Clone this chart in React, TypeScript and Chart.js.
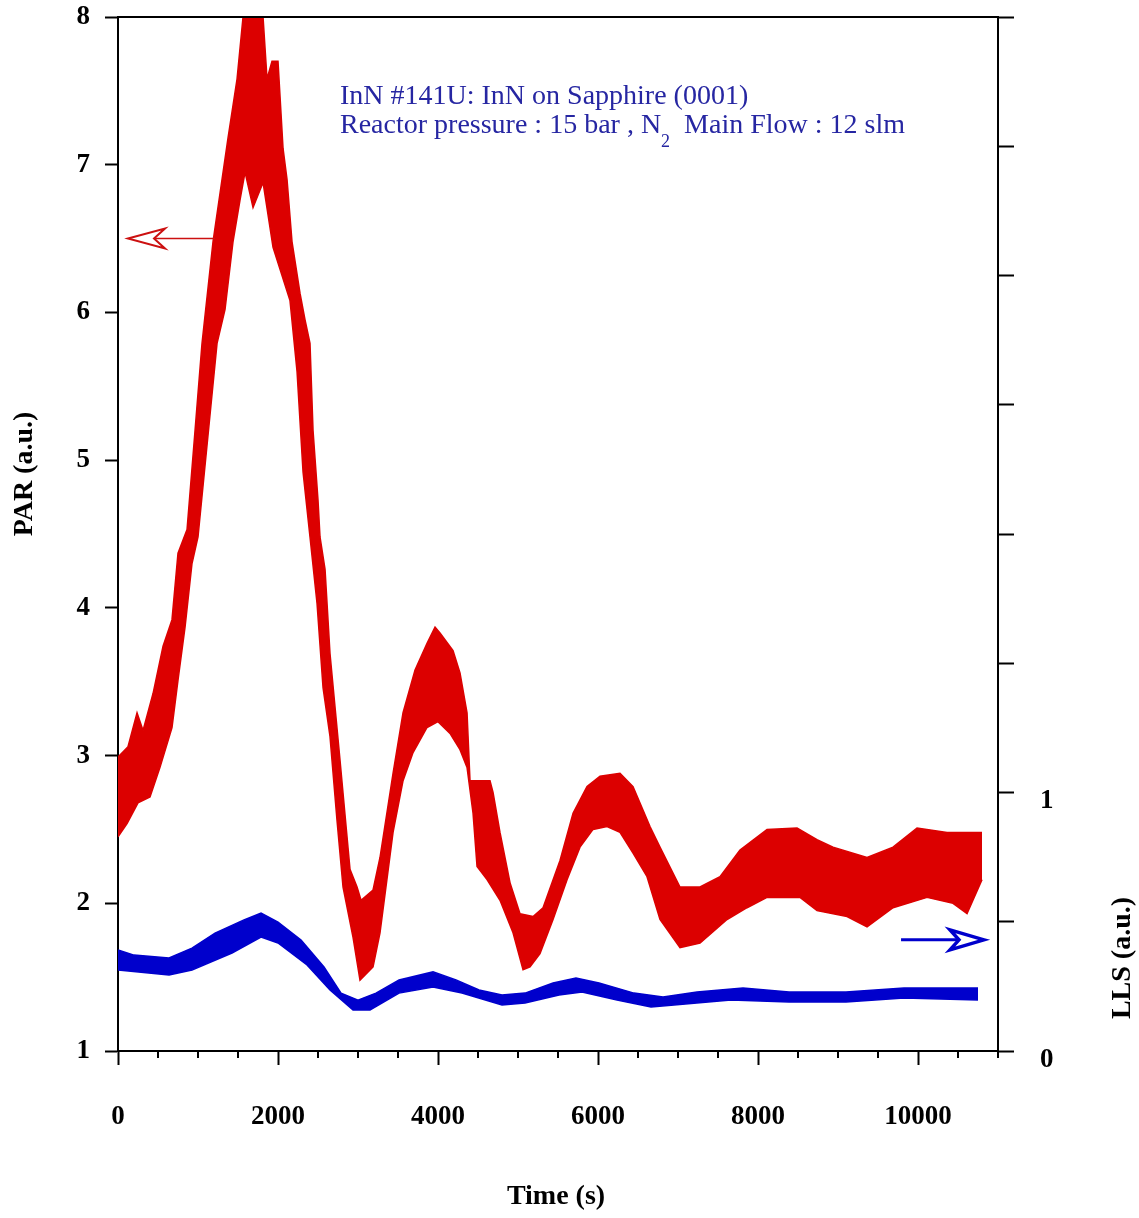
import React, { useEffect, useRef } from 'react';
import { Chart, registerables } from 'chart.js';

Chart.register(...registerables);

// ---- PAR (left axis) : upper and lower envelope of the noisy red trace ----
const PAR_TOP_T = [0, 125, 238, 313, 438, 563, 675, 750, 863, 963, 1050, 1188, 1375, 1488, 1563, 1813, 1863, 1925, 2000, 2063, 2113, 2175, 2275, 2338, 2400, 2438, 2500, 2525, 2588, 2650, 2775, 2900, 2988, 3038, 3188, 3275, 3438, 3563, 3713, 3863, 3963, 4025, 4188, 4275, 4363, 4400, 4650, 4688, 4775, 4900, 5025, 5188, 5313, 5525, 5688, 5863, 6025, 6275, 6438, 6650, 6775, 7025, 7275, 7525, 7775, 8113, 8488, 8738, 8938, 9363, 9688, 9988, 10363, 10800];
const PAR_TOP_V = [2.99, 3.06, 3.29, 3.17, 3.42, 3.74, 3.92, 4.37, 4.53, 5.2, 5.79, 6.48, 7.18, 7.58, 8.0, 8.0, 7.58, 7.7, 7.7, 7.11, 6.9, 6.48, 6.13, 5.95, 5.79, 5.2, 4.73, 4.48, 4.26, 3.69, 2.97, 2.23, 2.11, 2.02, 2.09, 2.31, 2.88, 3.29, 3.58, 3.76, 3.87, 3.83, 3.71, 3.56, 3.29, 2.83, 2.83, 2.75, 2.48, 2.14, 1.93, 1.91, 1.97, 2.29, 2.61, 2.79, 2.86, 2.88, 2.79, 2.52, 2.38, 2.11, 2.11, 2.18, 2.36, 2.5, 2.51, 2.43, 2.38, 2.31, 2.38, 2.51, 2.48, 2.48];
const PAR_BOT_T = [0, 113, 250, 400, 525, 675, 750, 838, 925, 1000, 1238, 1338, 1438, 1525, 1588, 1688, 1813, 1938, 2150, 2238, 2313, 2400, 2488, 2563, 2650, 2738, 2813, 2938, 3025, 3188, 3275, 3438, 3563, 3688, 3863, 4000, 4150, 4275, 4363, 4438, 4488, 4613, 4775, 4938, 5063, 5150, 5275, 5438, 5613, 5775, 5938, 6113, 6275, 6438, 6613, 6775, 7025, 7275, 7613, 7863, 8113, 8525, 8738, 9113, 9363, 9688, 10113, 10438, 10613, 10800];
const PAR_BOT_V = [2.45, 2.54, 2.68, 2.72, 2.92, 3.19, 3.51, 3.87, 4.3, 4.48, 5.79, 6.02, 6.48, 6.76, 6.95, 6.71, 6.88, 6.44, 6.08, 5.6, 4.92, 4.48, 4.03, 3.46, 3.13, 2.56, 2.11, 1.77, 1.48, 1.57, 1.8, 2.48, 2.83, 3.02, 3.19, 3.23, 3.15, 3.04, 2.92, 2.61, 2.25, 2.16, 2.02, 1.8, 1.55, 1.57, 1.66, 1.89, 2.16, 2.38, 2.5, 2.52, 2.48, 2.34, 2.18, 1.89, 1.7, 1.73, 1.89, 1.97, 2.04, 2.04, 1.95, 1.91, 1.84, 1.97, 2.04, 2.0, 1.93, 2.16];

// ---- LLS (right axis) : upper and lower envelope of the blue trace ----
const LLS_TOP_T = [0, 200, 638, 925, 1213, 1575, 1788, 2000, 2288, 2575, 2788, 3000, 3225, 3513, 3938, 4225, 4513, 4800, 5088, 5438, 5725, 6013, 6450, 6813, 7238, 7813, 8388, 9100, 9825, 10750];
const LLS_TOP_V = [0.391, 0.371, 0.36, 0.398, 0.456, 0.507, 0.534, 0.499, 0.429, 0.325, 0.224, 0.197, 0.224, 0.275, 0.306, 0.275, 0.236, 0.217, 0.224, 0.263, 0.282, 0.263, 0.224, 0.209, 0.228, 0.244, 0.228, 0.228, 0.244, 0.244];
const LLS_BOT_T = [0, 638, 925, 1425, 1788, 2000, 2363, 2650, 2938, 3150, 3513, 3938, 4300, 4800, 5088, 5513, 5800, 6238, 6663, 6950, 7663, 8388, 9100, 9825, 10750];
const LLS_BOT_V = [0.313, 0.294, 0.313, 0.379, 0.441, 0.418, 0.333, 0.236, 0.159, 0.159, 0.224, 0.248, 0.224, 0.178, 0.186, 0.217, 0.228, 0.197, 0.17, 0.178, 0.197, 0.19, 0.19, 0.205, 0.197];

// ---- axes ----
const X_MAJOR_TICKS = [0, 2000, 4000, 6000, 8000, 10000];
const X_MINOR_TICKS = [500, 1000, 1500, 2500, 3000, 3500, 4500, 5000, 5500, 6500, 7000, 7500, 8500, 9000, 9500, 10500, 11000];
const LLS_LABELED_TICKS = [0, 1];

// ---- annotations ----
const NOTE_LINE_1 = 'InN #141U: InN on Sapphire (0001)';
const NOTE_LINE_2A = 'Reactor pressure : 15 bar , N';
const NOTE_LINE_2SUB = '2';
const NOTE_LINE_2B = '  Main Flow : 12 slm';
const PAR_ARROW = { tail: 1213, tip: 125, value: 6.5 };
const LLS_ARROW = { tail: 9788, tip: 10825, value: 0.43 };

const RED = '#DC0000';
const BLUE = '#0000CC';
const NOTE_BLUE = '#2626A2';
const SERIF = '"Liberation Serif", "Times New Roman", serif';

const pts = (t: number[], v: number[]) => t.map((x, i) => ({ x, y: v[i] }));

function drawArrow(ctx: CanvasRenderingContext2D, xTail: number, xTip: number, y: number, color: string, lw: number, headLen: number, half: number, notch: number) {
  const dir = xTip > xTail ? 1 : -1;
  const back = xTip - dir * headLen;
  const notchX = xTip - dir * notch;
  ctx.save();
  ctx.strokeStyle = color;
  ctx.lineWidth = lw;
  ctx.beginPath();
  ctx.moveTo(xTail, y);
  ctx.lineTo(notchX, y);
  ctx.stroke();
  ctx.beginPath();
  ctx.moveTo(xTip, y);
  ctx.lineTo(back, y - half);
  ctx.lineTo(notchX, y);
  ctx.lineTo(back, y + half);
  ctx.closePath();
  ctx.fillStyle = '#fff';
  ctx.fill();
  ctx.lineWidth = lw + 0.5;
  ctx.stroke();
  ctx.restore();
}

const zeroPad = (s: any) => {
  s.paddingTop = 0;
  s.paddingBottom = 0;
  s.paddingLeft = 0;
  s.paddingRight = 0;
};

const decorPlugin = {
  id: 'decor',
  afterDraw(chart: any) {
    const { ctx, chartArea: a, scales } = chart;
    const xs = scales.x, ys = scales.y, y2 = scales.y2;
    ctx.save();
    // top frame line
    ctx.strokeStyle = '#000';
    ctx.lineWidth = 2;
    ctx.beginPath();
    ctx.moveTo(a.left - 1, a.top);
    ctx.lineTo(a.right + 1, a.top);
    ctx.stroke();
    // minor x ticks
    for (const v of X_MINOR_TICKS) {
      const px = Math.round(xs.getPixelForValue(v));
      ctx.beginPath();
      ctx.moveTo(px, a.bottom);
      ctx.lineTo(px, a.bottom + 7);
      ctx.stroke();
    }
    // axis titles
    ctx.fillStyle = '#000';
    ctx.font = `bold 28px ${SERIF}`;
    ctx.textAlign = 'center';
    ctx.textBaseline = 'middle';
    ctx.save();
    ctx.translate(25, 474);
    ctx.rotate(-Math.PI / 2);
    ctx.fillText('PAR (a.u.)', 0, 0);
    ctx.restore();
    ctx.save();
    ctx.translate(1123, 958);
    ctx.rotate(-Math.PI / 2);
    ctx.fillText('LLS (a.u.)', 0, 0);
    ctx.restore();
    ctx.fillText('Time (s)', 556, 1197);

    // annotation text
    ctx.fillStyle = NOTE_BLUE;
    ctx.textAlign = 'left';
    ctx.textBaseline = 'alphabetic';
    const x0 = a.left + 222;
    ctx.font = `28px ${SERIF}`;
    ctx.fillText(NOTE_LINE_1, x0, a.top + 87);
    let x = x0;
    const yb = a.top + 116;
    ctx.fillText(NOTE_LINE_2A, x, yb);
    x += ctx.measureText(NOTE_LINE_2A).width;
    ctx.font = `18px ${SERIF}`;
    ctx.fillText(NOTE_LINE_2SUB, x, yb + 14);
    x += ctx.measureText(NOTE_LINE_2SUB).width;
    ctx.font = `28px ${SERIF}`;
    ctx.fillText(NOTE_LINE_2B, x, yb);

    // arrows
    drawArrow(ctx, xs.getPixelForValue(PAR_ARROW.tail), xs.getPixelForValue(PAR_ARROW.tip), ys.getPixelForValue(PAR_ARROW.value), '#CC1010', 1.5, 37, 10, 26);
    drawArrow(ctx, xs.getPixelForValue(LLS_ARROW.tail), xs.getPixelForValue(LLS_ARROW.tip), y2.getPixelForValue(LLS_ARROW.value), BLUE, 3, 34, 10, 25);
    ctx.restore();
  },
};

export default function App() {
  const ref = useRef<HTMLCanvasElement | null>(null);
  useEffect(() => {
    document.body.style.margin = '0';
    const canvas = ref.current;
    if (!canvas) return;
    const tickFont = { family: SERIF, size: 27, weight: 'bold' as const };
    const chart = new Chart(canvas, {
      type: 'line',
      data: {
        datasets: [
          { data: pts(PAR_TOP_T, PAR_TOP_V), yAxisID: 'y', borderColor: RED, borderWidth: 1.5, pointRadius: 0, fill: false, tension: 0 },
          { data: pts(PAR_BOT_T, PAR_BOT_V), yAxisID: 'y', borderColor: RED, borderWidth: 1.5, pointRadius: 0, fill: { target: '-1', above: RED, below: RED }, tension: 0 },
          { data: pts(LLS_TOP_T, LLS_TOP_V), yAxisID: 'y2', borderColor: BLUE, borderWidth: 1.5, pointRadius: 0, fill: false, tension: 0 },
          { data: pts(LLS_BOT_T, LLS_BOT_V), yAxisID: 'y2', borderColor: BLUE, borderWidth: 1.5, pointRadius: 0, fill: { target: '-1', above: BLUE, below: BLUE }, tension: 0 },
        ] as any,
      },
      options: {
        animation: false,
        responsive: false,
        events: [],
        layout: { padding: { top: 17, left: 0, right: 0, bottom: 0 } },
        plugins: { legend: { display: false }, tooltip: { enabled: false } },
        scales: {
          x: {
            type: 'linear',
            position: 'bottom',
            min: 0,
            max: 11000,
            afterBuildTicks: (s: any) => { s.ticks = X_MAJOR_TICKS.map((v) => ({ value: v })); },
            afterFit: (s: any) => { s.height = 167; zeroPad(s); },
            ticks: { font: tickFont, color: '#000', padding: 36, maxRotation: 0, autoSkip: false, callback: (v: any) => String(v) },
            grid: { drawOnChartArea: false, drawTicks: true, tickLength: 14, tickColor: '#000', tickWidth: 2 },
            border: { display: true, color: '#000', width: 2 },
          },
          y: {
            type: 'linear',
            position: 'left',
            min: 1,
            max: 8,
            ticks: { stepSize: 1, font: tickFont, color: '#000', padding: 15 },
            afterFit: (s: any) => { s.width = 118; zeroPad(s); },
            grid: { drawOnChartArea: false, drawTicks: true, tickLength: 13, tickColor: '#000', tickWidth: 2 },
            border: { display: true, color: '#000', width: 2 },
          },
          y2: {
            type: 'linear',
            position: 'right',
            min: 0,
            max: 4,
            ticks: {
              stepSize: 0.5,
              font: tickFont,
              color: '#000',
              padding: 26,
              labelOffset: 9,
              autoSkip: false,
              callback: (v: any) => (LLS_LABELED_TICKS.includes(Number(v)) ? String(v) : ''),
            },
            afterFit: (s: any) => { s.width = 141; zeroPad(s); },
            grid: { drawOnChartArea: false, drawTicks: true, tickLength: 16, tickColor: '#000', tickWidth: 2 },
            border: { display: true, color: '#000', width: 2 },
          },
        },
      } as any,
      plugins: [decorPlugin],
    });
    return () => chart.destroy();
  }, []);
  return (
    <div style={{ position: 'absolute', left: 0, top: 0, width: 1139, height: 1218 }}>
      <canvas ref={ref} width={1139} height={1218} style={{ display: 'block' }} />
    </div>
  );
}
